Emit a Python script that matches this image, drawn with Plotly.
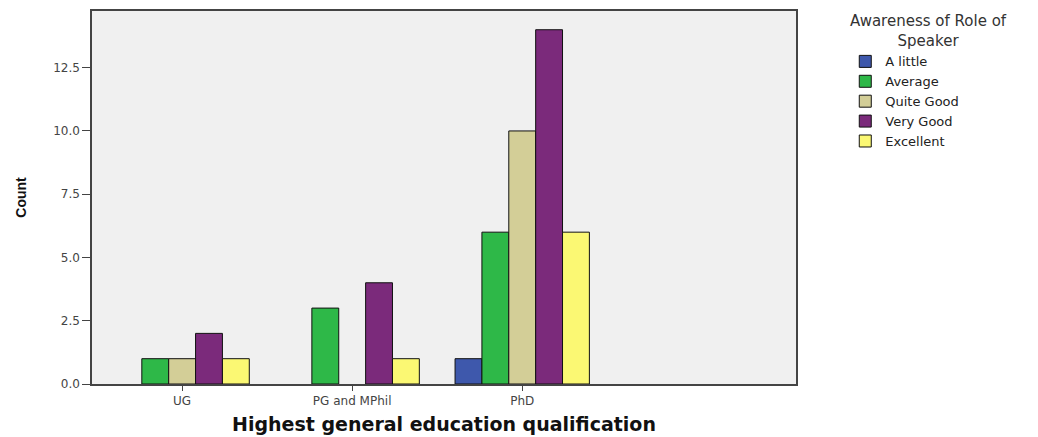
import plotly.graph_objects as go

categories = ["UG", "PG and MPhil", "PhD"]
series_names = ["A little", "Average", "Quite Good", "Very Good", "Excellent"]
a_little = [0, 0, 1]
average = [1, 3, 6]
quite_good = [1, 0, 10]
very_good = [2, 4, 14]
excellent = [1, 1, 6]
series_values = [a_little, average, quite_good, very_good, excellent]
colors = ["#3E58AC", "#2EB848", "#D3CE97", "#7B2A7B", "#FBF873"]
y_ticks = [0, 2.5, 5, 7.5, 10, 12.5]
legend_title = "Awareness of Role of<br>Speaker"

fig = go.Figure()
x_pos = list(range(len(categories)))
for name, vals, col in zip(series_names, series_values, colors):
    fig.add_trace(go.Bar(
        x=x_pos, y=[v if v != 0 else None for v in vals], name=name,
        marker=dict(color=col, line=dict(color="#111111", width=1)),
    ))

fig.add_annotation(
    text=legend_title, xref="paper", yref="paper",
    x=1.1875, y=1.003, xanchor="center", yanchor="top", align="center",
    showarrow=False, font=dict(size=15, color="#333333", family="DejaVu Sans"),
)

fig.update_layout(
    width=1038, height=437,
    barmode="group", bargap=0.21, bargroupgap=0,
    paper_bgcolor="white", plot_bgcolor="#F0F0F0",
    margin=dict(l=84, r=250, t=1, b=61),
    font=dict(family="DejaVu Sans", color="#333333"),
    legend=dict(
        font=dict(size=13, color="#222222", family="DejaVu Sans"),
        x=1.07, xanchor="left", y=0.905, yanchor="top",
        bgcolor="rgba(0,0,0,0)", tracegroupgap=0,
    ),
    xaxis=dict(
        tickmode="array", tickvals=x_pos, ticktext=categories,
        range=[-0.53, 3.61],
        showline=True, linecolor="#444444", linewidth=1.5, mirror=True,
        ticks="outside", ticklen=5, tickcolor="#444444",
        tickfont=dict(size=12, color="#444444", family="DejaVu Sans"),
        showgrid=False, zeroline=False,
        title=dict(text="<b>Highest general education qualification</b>",
                   font=dict(size=19, color="#111111", family="DejaVu Sans"),
                   standoff=11),
    ),
    yaxis=dict(
        range=[0, 14.74],
        tickmode="array", tickvals=y_ticks, tickformat=".1f",
        showline=True, linecolor="#444444", linewidth=1.5, mirror=True,
        ticks="outside", ticklen=8, tickcolor="#444444",
        tickfont=dict(size=12, color="#444444", family="DejaVu Sans"),
        showgrid=False, zeroline=False,
        title=dict(text="<b>Count</b>",
                   font=dict(size=14, color="#111111", family="Liberation Sans"),
                   standoff=23),
    ),
)

fig.write_html("out.html")
